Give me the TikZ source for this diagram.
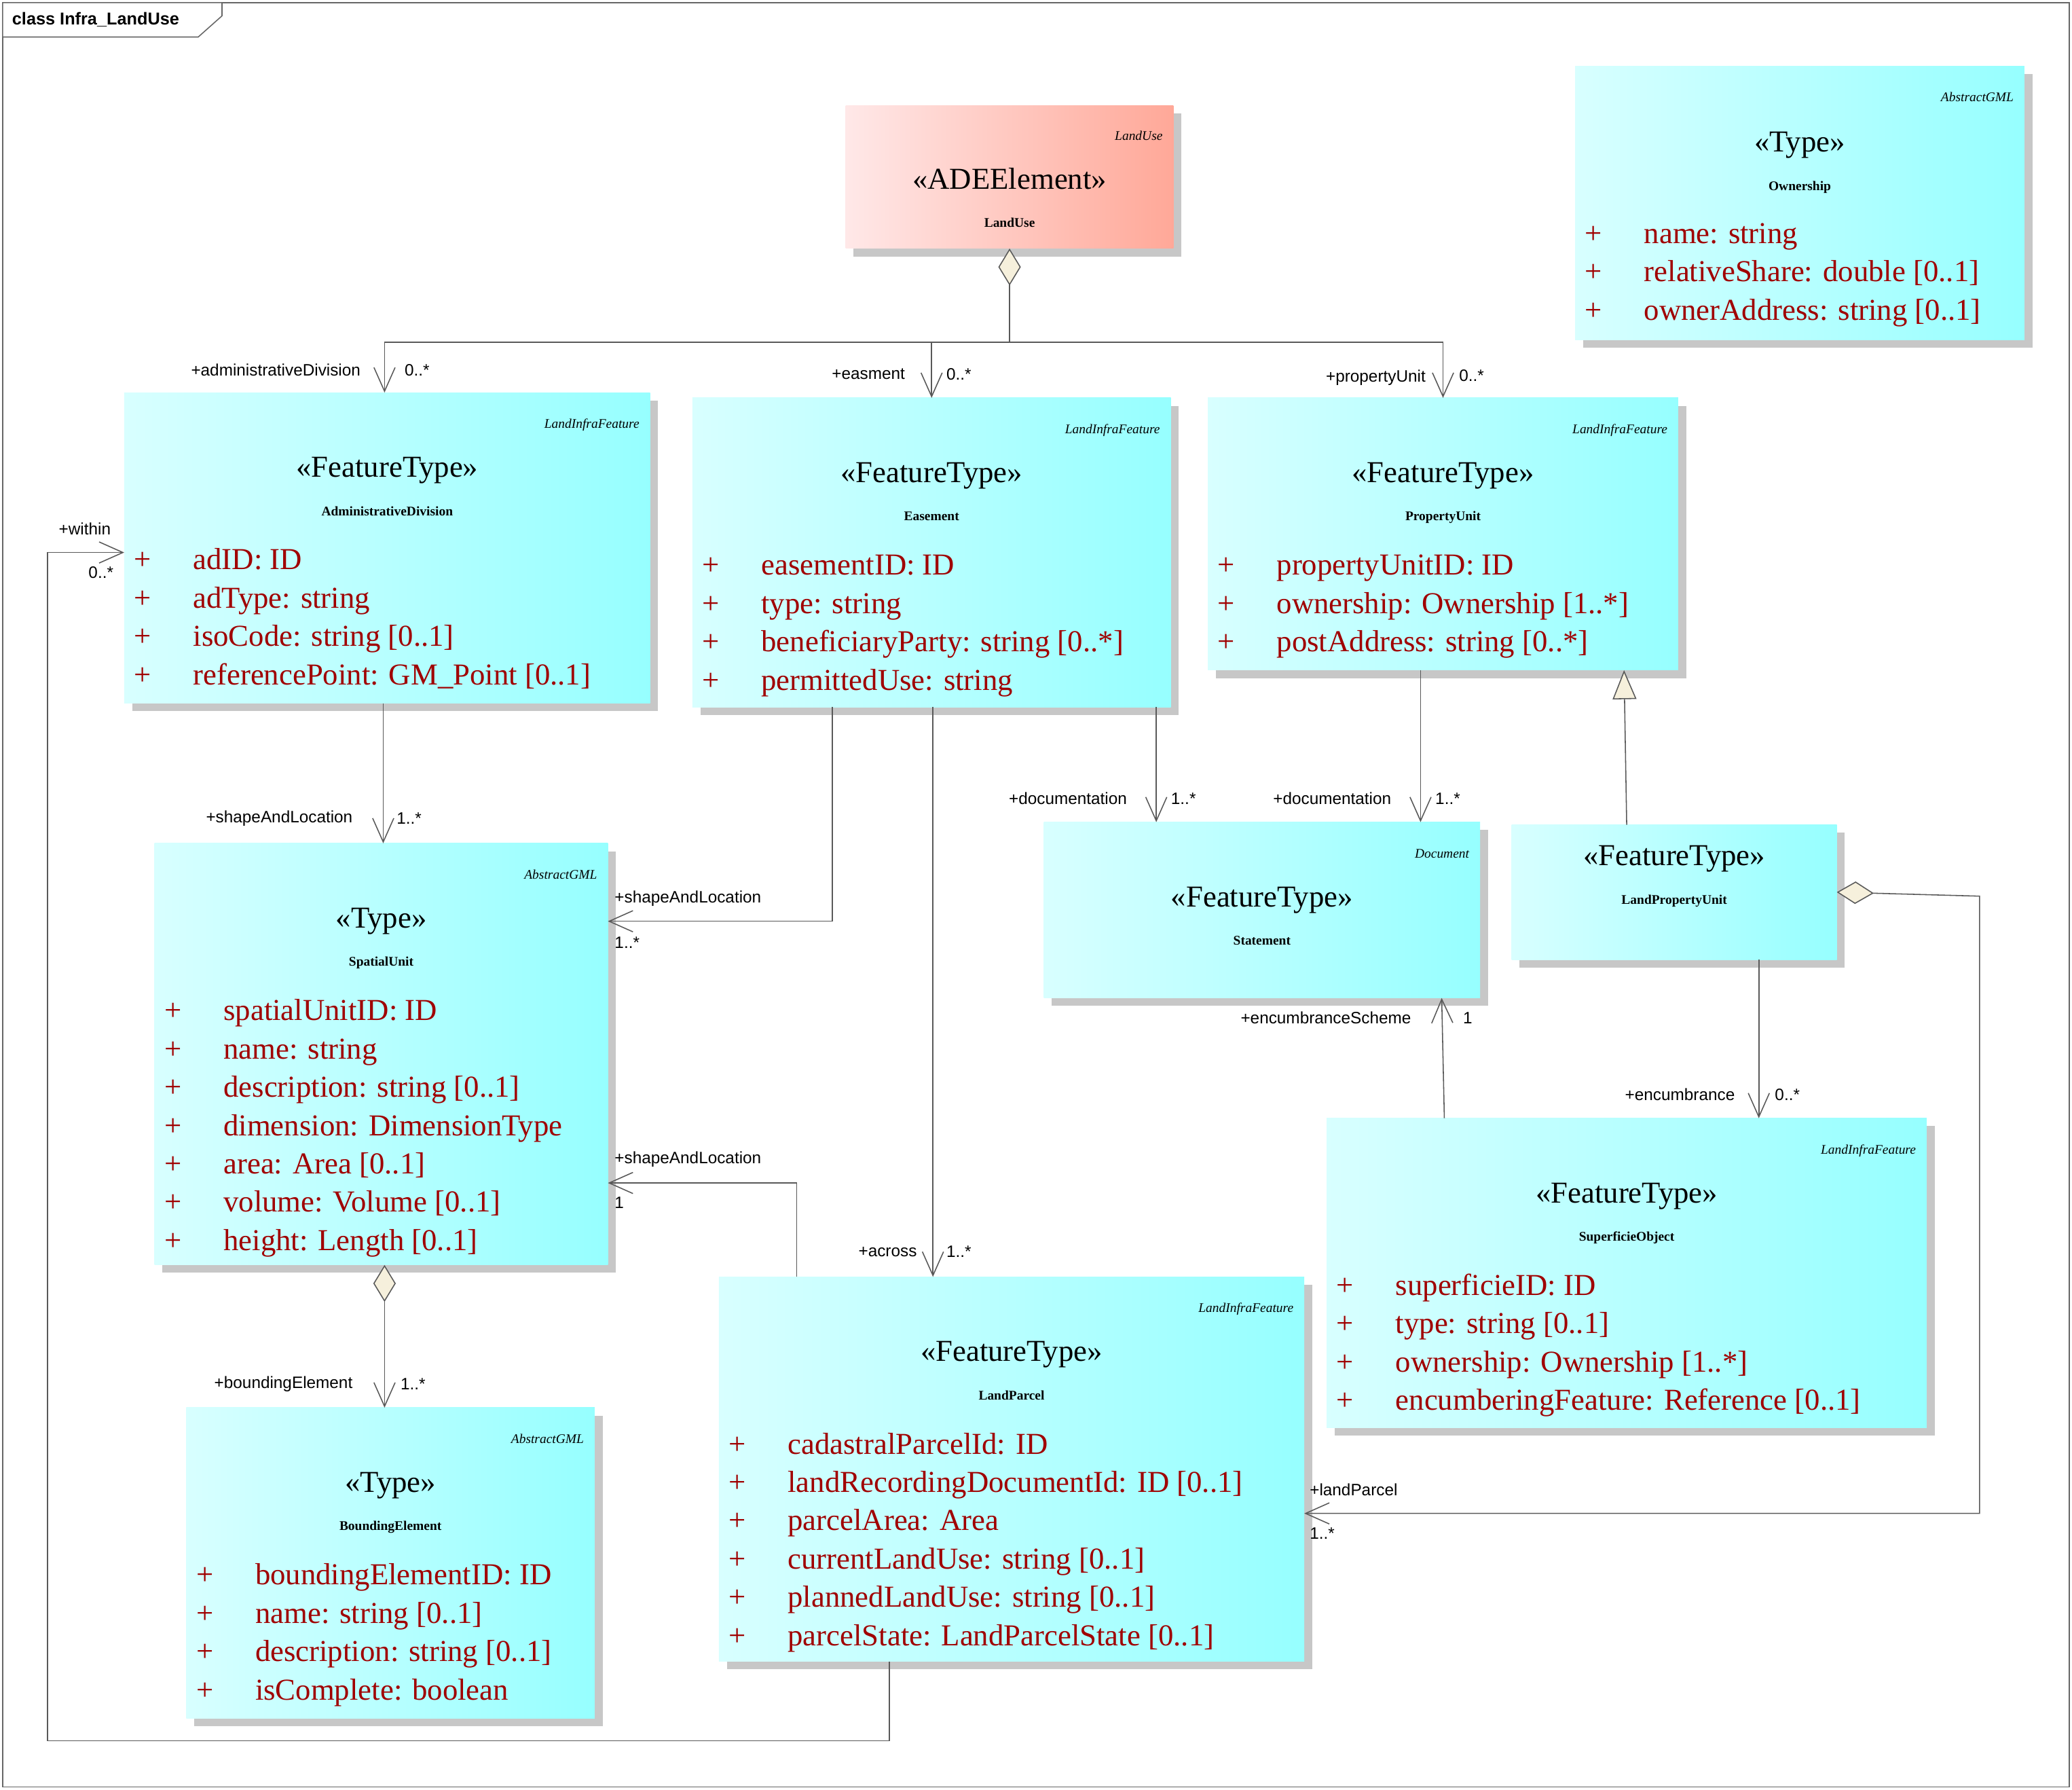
\documentclass[tikz,border=0pt]{standalone}
\usepackage{fontspec}
\setmainfont{Liberation Serif}
\newfontfamily\lsans{Liberation Sans}
\usetikzlibrary{arrows.meta,calc}
\definecolor{attr}{HTML}{A00000}
\definecolor{cyL}{HTML}{D8FFFF}
\definecolor{cyR}{HTML}{96FFFF}
\definecolor{rdL}{HTML}{FFE8E8}
\definecolor{rdR}{HTML}{FFA898}
\definecolor{diam}{HTML}{F6F0DC}
\tikzset{
 cls/.style={inner sep=0,outer sep=0,left color=cyL,right color=cyR,draw=none},
 adee/.style={inner sep=0,outer sep=0,left color=rdL,right color=rdR,draw=none},
 lbl/.style={font=\lsans\fontsize{12.5}{14}\selectfont,inner sep=0},
 con/.style={draw=black!65,line width=0.8pt},
 nav/.style={con,-{Straight Barb[length=18pt,width=16pt,line width=0.8pt]}},
 agg/.style={con,{Diamond[length=28pt,width=17pt,fill=diam,line width=0.8pt]}-},
 aggnav/.style={con,{Diamond[length=28pt,width=17pt,fill=diam,line width=0.8pt]}-{Straight Barb[length=18pt,width=16pt,line width=0.8pt]}},
 gen/.style={con,-{Triangle[open,length=22pt,width=18pt,fill=diam,line width=0.8pt]}},
}
\newcommand\ubox[6]{%
 \fill[black!22] (#2+6,#3+6) rectangle (#4+6,#5+6);
 \node[#6,minimum width={#4-#2},minimum height={#5-#3}] (#1) at ({(#2+#4)/2},{(#3+#5)/2}) {};}
\newcommand\hdr[5]{%
 \node[anchor=base east,font=\itshape,inner sep=0] at ($(#1.north east)+(-8,27)$) {#2};
 \node[anchor=base,inner sep=0] at ($(#1.north)+(0,#5)$) {#3};
 \node[anchor=base,font=\bfseries,inner sep=0] at ($(#1.north)+(0,#5+29)$) {#4};}
\newcommand\attrs[2]{%
 \foreach \t [count=\i] in {#2} {
  \node[anchor=base,text=attr,inner sep=0] at ($(#1.north west)+(14,105+29*\i)$) {+};
  \node[anchor=base west,text=attr,inner sep=0] at ($(#1.north west)+(52,105+29*\i)$) {\t};}}
\begin{document}
\begin{tikzpicture}[x=1pt,y=-1pt,font=\fontsize{23}{27}\selectfont]
\useasboundingbox (0,0) rectangle (1568,1354);
\draw[black!60,line width=0.8pt] (2,2) rectangle (1566,1352);
\draw[black!60,line width=0.8pt,fill=white] (2,2) -- (168,2) -- (168,12) -- (150,28) -- (2,28) -- cycle;
\node[anchor=west,font=\lsans\bfseries\fontsize{13}{15}\selectfont,inner sep=0] (frm) at (9,15) {class Infra\_LandUse};

\ubox{lu}{640}{80}{888}{188}{adee}
\node[anchor=base east,font=\itshape,inner sep=0] at ($(lu.north east)+(-8,26)$) {LandUse};
\node[anchor=base,inner sep=0] at ($(lu.north)+(0,63)$) {«ADEElement»};
\node[anchor=base,font=\bfseries,inner sep=0] at ($(lu.north)+(0,92)$) {LandUse};

\ubox{own}{1192}{50}{1532}{257}{cls}
\hdr{own}{AbstractGML}{«Type»}{Ownership}{65}
\attrs{own}{name: string,relativeShare: double [0..1],ownerAddress: string [0..1]}

\ubox{adm}{94}{297}{492}{532}{cls}
\hdr{adm}{LandInfraFeature}{«FeatureType»}{AdministrativeDivision}{64}
\attrs{adm}{adID: ID,adType: string,isoCode: string [0..1],referencePoint: GM\_Point [0..1]}

\ubox{eas}{524}{301}{886}{535}{cls}
\hdr{eas}{LandInfraFeature}{«FeatureType»}{Easement}{64}
\attrs{eas}{easementID: ID,type: string,beneficiaryParty: string [0..*],permittedUse: string}

\ubox{pu}{914}{301}{1270}{507}{cls}
\hdr{pu}{LandInfraFeature}{«FeatureType»}{PropertyUnit}{64}
\attrs{pu}{propertyUnitID: ID,ownership: Ownership [1..*],postAddress: string [0..*]}

\ubox{su}{117}{638}{460}{957}{cls}
\hdr{su}{AbstractGML}{«Type»}{SpatialUnit}{64}
\attrs{su}{spatialUnitID: ID,name: string,description: string [0..1],dimension: DimensionType,area: Area [0..1],volume: Volume [0..1],height: Length [0..1]}

\ubox{doc}{790}{622}{1120}{755}{cls}
\hdr{doc}{Document}{«FeatureType»}{Statement}{64}

\ubox{lpu}{1144}{624}{1390}{726}{cls}
\node[anchor=base,inner sep=0] at ($(lpu.north)+(0,31)$) {«FeatureType»};
\node[anchor=base,font=\bfseries,inner sep=0] at ($(lpu.north)+(0,60)$) {LandPropertyUnit};

\ubox{sup}{1004}{846}{1458}{1080}{cls}
\hdr{sup}{LandInfraFeature}{«FeatureType»}{SuperficieObject}{64}
\attrs{sup}{superficieID: ID,type: string [0..1],ownership: Ownership [1..*],encumberingFeature: Reference [0..1]}

\ubox{lp}{544}{966}{987}{1257}{cls}
\hdr{lp}{LandInfraFeature}{«FeatureType»}{LandParcel}{64}
\attrs{lp}{cadastralParcelId: ID,landRecordingDocumentId: ID [0..1],parcelArea: Area,currentLandUse: string [0..1],plannedLandUse: string [0..1],parcelState: LandParcelState [0..1]}

\ubox{be}{141}{1065}{450}{1300}{cls}
\hdr{be}{AbstractGML}{«Type»}{BoundingElement}{64}
\attrs{be}{boundingElementID: ID,name: string [0..1],description: string [0..1],isComplete: boolean}

% connectors
\coordinate (j) at (764,259);
\draw[agg] (lu.south) -- (j);
\draw[nav] (j) -| ([xshift=-2]adm.north);
\draw[nav] (j) -| (eas.north);
\draw[nav] (j) -| (pu.north);
\node[lbl,anchor=east] at (273,280) {+administrativeDivision};
\node[lbl,anchor=west] at (306,280) {0..*};
\node[lbl,anchor=east] at (685,283) {+easment};
\node[lbl,anchor=west] at (716,283) {0..*};
\node[lbl,anchor=east] at (1079,286) {+propertyUnit};
\node[lbl,anchor=west] at (1104,284) {0..*};

\draw[nav] ([xshift=196]adm.south west) -- ([xshift=173]su.north west);
\node[lbl,anchor=east] at (267,619) {+shapeAndLocation};
\node[lbl,anchor=west] at (300,619) {1..*};

\draw[nav] ([xshift=106]eas.south west) |- ([yshift=-59]su.north east);
\node[lbl,anchor=west] at (465,680) {+shapeAndLocation};
\node[lbl,anchor=west] at (465,713) {1..*};

\draw[nav] ([xshift=182]eas.south west) -- ([xshift=162]lp.north west);
\node[lbl,anchor=east] at (694,947) {+across};
\node[lbl,anchor=west] at (716,947) {1..*};

\draw[nav] ([xshift=-11]eas.south east) -- ([xshift=85]doc.north west);
\node[lbl,anchor=east] at (853,604) {+documentation};
\node[lbl,anchor=west] at (886,604) {1..*};

\draw[nav] ([xshift=161]pu.south west) -- ([xshift=285]doc.north west);
\node[lbl,anchor=east] at (1053,604) {+documentation};
\node[lbl,anchor=west] at (1086,604) {1..*};

\draw[gen] ([xshift=87]lpu.north west) -- ([xshift=315]pu.south west);

\draw[nav] ([xshift=89]sup.north west) -- ([xshift=301]doc.south west);
\node[lbl,anchor=east] at (1068,770) {+encumbranceScheme};
\node[lbl,anchor=west] at (1107,770) {1};

\draw[nav] ([xshift=187]lpu.south west) -- ([xshift=327]sup.north west);
\node[lbl,anchor=east] at (1313,828) {+encumbrance};
\node[lbl,anchor=west] at (1343,828) {0..*};

\coordinate (r1) at (1498,678);
\coordinate (r2) at (1498,1145);
\draw[aggnav] (lpu.east) -- (r1) -- (r2) -- (lp.east |- r2);
\node[lbl,anchor=west] at (991,1127) {+landParcel};
\node[lbl,anchor=west] at (991,1160) {1..*};

\draw[nav] ([xshift=59]lp.north west) |- ([yshift=-257]su.north east);
\node[lbl,anchor=west] at (465,877) {+shapeAndLocation};
\node[lbl,anchor=west] at (465,910) {1};

\draw[aggnav] ([xshift=174]su.south west) -- ([xshift=150]be.north west);
\node[lbl,anchor=east] at (267,1047) {+boundingElement};
\node[lbl,anchor=west] at (303,1047) {1..*};

\coordinate (w1) at (36,1317);
\coordinate (w2) at (36,418);
\draw[nav] ([xshift=129]lp.south west) |- (w1) -- (w2) -- (adm.west |- w2);
\node[lbl,anchor=east] at (84,400) {+within};
\node[lbl,anchor=east] at (86,433) {0..*};
\end{tikzpicture}
\end{document}
